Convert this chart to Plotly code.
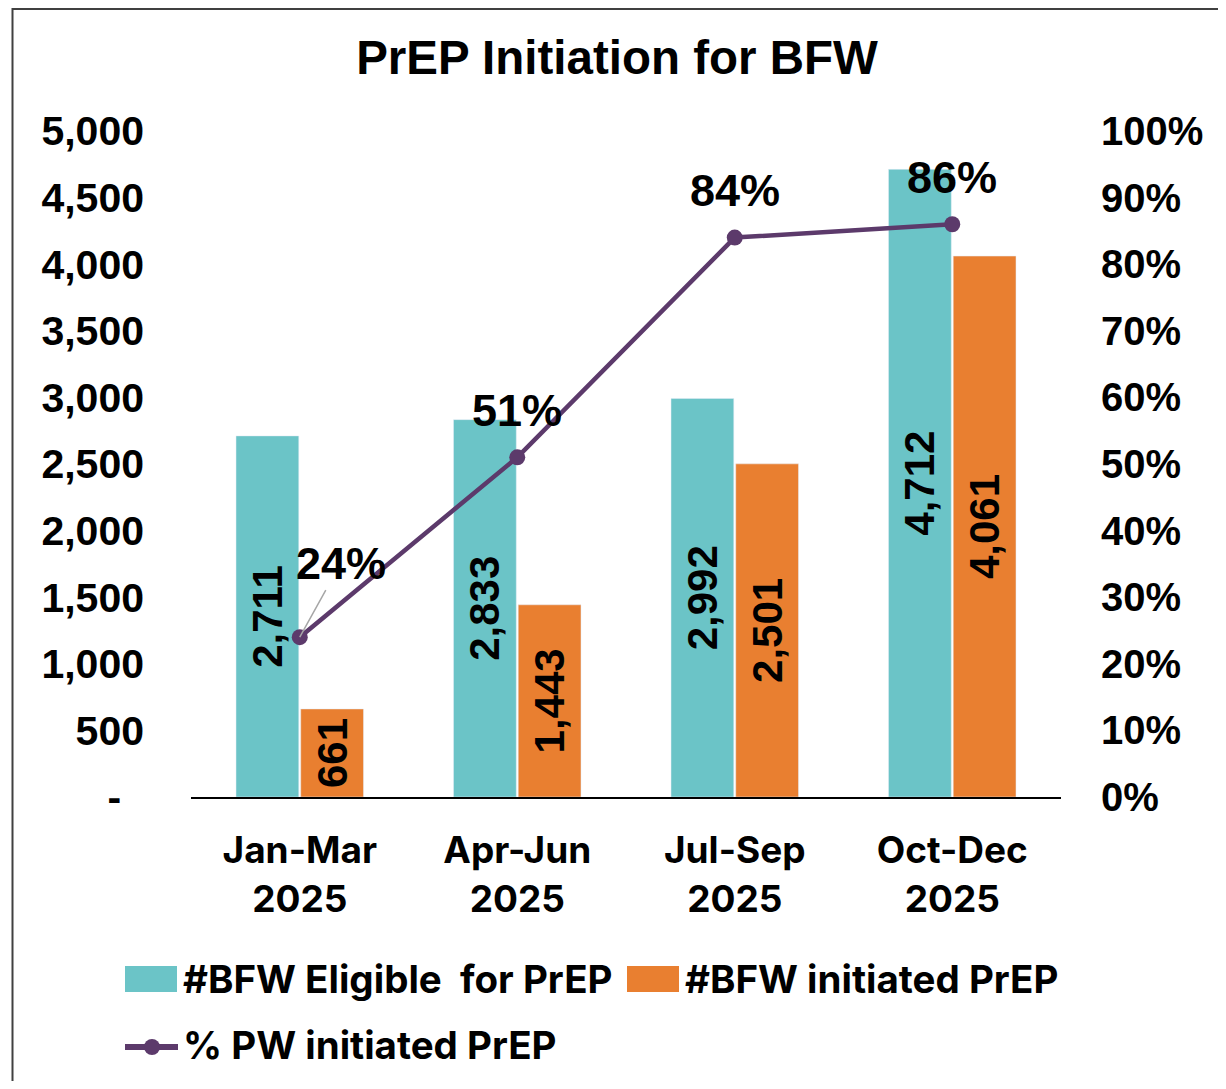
import plotly.graph_objects as go

# data
quarters = ["Jan-Mar<br>2025", "Apr-Jun<br>2025", "Jul-Sep<br>2025", "Oct-Dec<br>2025"]
eligible = [2711, 2833, 2992, 4712]
initiated = [661, 1443, 2501, 4061]
pct_initiated = [0.24, 0.51, 0.84, 0.86]

left_tickvals = [0, 500, 1000, 1500, 2000, 2500, 3000, 3500, 4000, 4500, 5000]
left_ticktext = ["-\u00a0\u00a0", "500", "1,000", "1,500", "2,000", "2,500",
                 "3,000", "3,500", "4,000", "4,500", "5,000"]
right_tickvals = [0, 0.1, 0.2, 0.3, 0.4, 0.5, 0.6, 0.7, 0.8, 0.9, 1.0]

series_names = ["#BFW Eligible\u00a0 for PrEP", "#BFW initiated PrEP", "% PW initiated PrEP"]

TEAL = "#6BC4C7"
ORANGE = "#E97F30"
PURPLE = "#5C3A6B"
ARIAL = "Liberation Sans, Arial, sans-serif"
SANS = "Inter, Noto Sans, sans-serif"

# the page body adds an 8px margin, so the figure is a bit smaller than the window
OFF = 8
W, H = 1226 - OFF, 1089 - 2 * OFF
L, R, T = 191 - OFF, 165, 131 - OFF
B = H - T - 666


def px_x(x):
    """page pixel x -> paper x"""
    return (x - OFF - L) / (W - L - R)


def px_y(y):
    """page pixel y -> paper y"""
    return (H - B - (y - OFF)) / (H - T - B)


bold_arial = lambda size: dict(family=ARIAL, size=size, color="black", weight="bold")
bold_sans = lambda size: dict(family=SANS, size=size, color="black", weight="bold")

fig = go.Figure()
fig.add_trace(go.Bar(
    x=quarters, y=eligible, name=series_names[0], marker_color=TEAL,
    texttemplate="%{y:,}", textposition="inside", insidetextanchor="middle",
    textangle=-90, textfont=bold_arial(42), showlegend=False,
))
fig.add_trace(go.Bar(
    x=quarters, y=initiated, name=series_names[1], marker_color=ORANGE,
    texttemplate="%{y:,}", textposition="inside", insidetextanchor="middle",
    textangle=-90, textfont=bold_arial(42), showlegend=False,
))
fig.add_trace(go.Scatter(
    x=quarters, y=pct_initiated, name=series_names[2], yaxis="y2",
    mode="lines+markers", line=dict(color=PURPLE, width=4.5),
    marker=dict(color=PURPLE, size=16), showlegend=False,
))

# percentage labels; the first one is pulled off with a leader line
annotations = []
for i, (q, p) in enumerate(zip(quarters, pct_initiated)):
    label = f"{round(p * 100)}%"
    if i == 0:
        annotations.append(dict(
            x=q, y=p, xref="x", yref="y2", text=label, font=bold_arial(45),
            showarrow=True, arrowhead=0, arrowwidth=1.5, arrowcolor="#A6A6A6",
            ax=41, ay=-74,
        ))
    else:
        annotations.append(dict(
            x=q, y=p, xref="x", yref="y2", text=label, font=bold_arial(45),
            showarrow=False, yshift=47,
        ))

# legend drawn by hand so the swatches match the original size
legend_items = [
    (series_names[0], TEAL, 125, 177, 979),
    (series_names[1], ORANGE, 627, 679, 979),
]
shapes = []
for name, color, x0, x1, yc in legend_items:
    shapes.append(dict(type="rect", xref="paper", yref="paper",
                       x0=px_x(x0), x1=px_x(x1), y0=px_y(yc + 13), y1=px_y(yc - 13),
                       fillcolor=color, line=dict(width=0)))
    annotations.append(dict(x=px_x(x1 + 4), y=px_y(yc), xref="paper", yref="paper",
                            text=name, font=bold_sans(38.5), showarrow=False,
                            xanchor="left", yanchor="middle"))
shapes.append(dict(type="line", xref="paper", yref="paper",
                   x0=px_x(125), x1=px_x(178), y0=px_y(1047), y1=px_y(1047),
                   line=dict(color=PURPLE, width=6)))
shapes.append(dict(type="circle", xref="paper", yref="paper",
                   x0=px_x(144), x1=px_x(160), y0=px_y(1055), y1=px_y(1039),
                   fillcolor=PURPLE, line=dict(width=0)))
annotations.append(dict(x=px_x(181), y=px_y(1045), xref="paper", yref="paper",
                        text=series_names[2], font=bold_sans(38.5), showarrow=False,
                        xanchor="left", yanchor="middle"))

# outer chart border (its top edge sits as high as the page allows)
shapes.append(dict(type="rect", xref="paper", yref="paper",
                   x0=px_x(12.5), x1=px_x(1221.5), y0=px_y(1100), y1=px_y(9),
                   line=dict(color="#404040", width=2), layer="below"))

fig.update_layout(
    width=W, height=H,
    margin=dict(l=L, r=R, t=T, b=B),
    paper_bgcolor="white", plot_bgcolor="white",
    title=dict(text="PrEP Initiation for BFW", font=bold_arial(47.5),
               x=(617 - OFF) / W, xanchor="center", y=1 - (57 - OFF) / H, yanchor="middle"),
    barmode="group", bargap=0.405, bargroupgap=0.03,
    showlegend=False,
    xaxis=dict(showline=True, linecolor="black", linewidth=2, ticks="",
               tickfont=bold_sans(37), ticklabelstandoff=20, showgrid=False),
    yaxis=dict(range=[0, 5000], tickvals=left_tickvals, ticktext=left_ticktext,
               tickfont=bold_arial(41), showgrid=False, zeroline=False,
               showline=False, ticklabelstandoff=46),
    yaxis2=dict(range=[0, 1], tickvals=right_tickvals, tickformat=".0%",
                overlaying="y", side="right", tickfont=bold_arial(40),
                showgrid=False, zeroline=False, showline=False,
                ticklabelstandoff=39),
    annotations=annotations,
    shapes=shapes,
)

fig.write_html("out.html")
